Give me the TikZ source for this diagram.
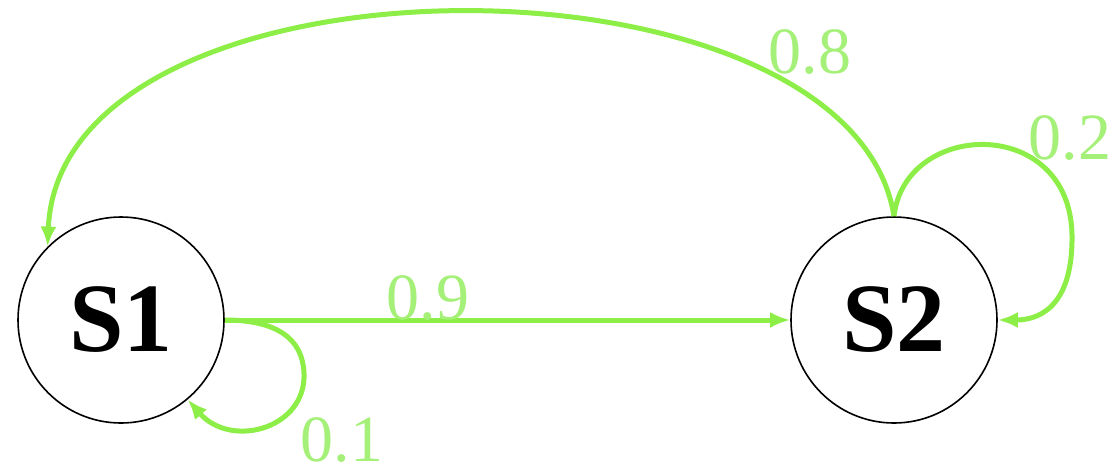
\documentclass[tikz,border=0pt]{standalone}
\usepackage{fontspec}
\setmainfont{Liberation Serif}
\usetikzlibrary{arrows.meta}
\definecolor{edgegreen}{RGB}{140,238,70}
\definecolor{labelgreen}{RGB}{165,240,120}
\begin{document}
\begin{tikzpicture}[x=1pt,y=-1pt,
  state/.style={circle,draw=black,line width=1.6pt,fill=white,minimum size=206pt,inner sep=0pt,
    font=\fontsize{98}{98}\selectfont\bfseries},
  edge/.style={draw=edgegreen,line width=5pt,-{Latex[length=20pt,width=16pt]}},
  lbl/.style={text=labelgreen,font=\fontsize{66}{66}\selectfont,inner sep=0pt}]
\useasboundingbox (0,0) rectangle (1117,475);
\node[state] (S1) at (121,320) {S1};
\node[state] (S2) at (894,320) {S2};
\coordinate (l1) at (304,378);
\coordinate (l2) at (1072,235);
\draw[edge] (S1.east) -- (S2.west);
\draw[edge] (S2.north) .. controls (850,-60) and (60,-60) .. (S1.135);
\draw[edge] (S2.north) .. controls (905,120) and (1070,115) .. (l2) .. controls (1073,300) and (1045,320) .. (S2.east);
\draw[edge] (S1.east) .. controls (285,320) and (305,345) .. (l1) .. controls (302,430) and (230,448) .. (S1.-50);
\node[lbl] (p08) at (810,52) {0.8};
\node[lbl] (p02) at (1070,138) {0.2};
\node[lbl] (p09) at (428,298) {0.9};
\node[lbl] (p01) at (342,440) {0.1};
\end{tikzpicture}
\end{document}
